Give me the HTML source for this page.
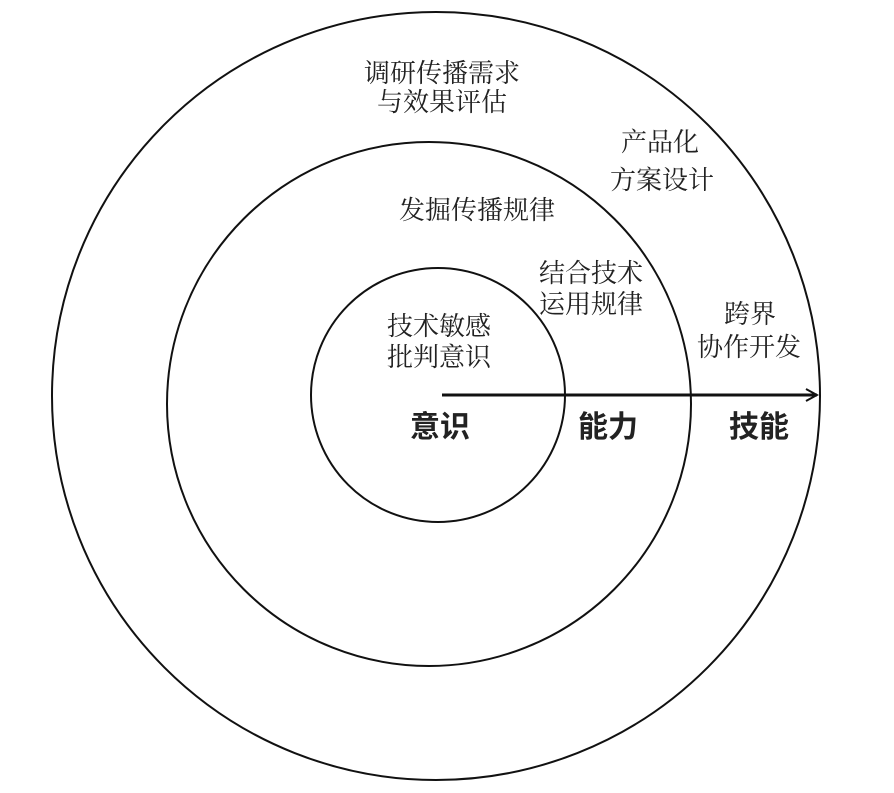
<!DOCTYPE html>
<html><head><meta charset="utf-8"><style>
html,body{margin:0;padding:0;background:#fff;}
svg text{fill:#222;}
.s{font-family:"Liberation Serif","Noto Serif CJK SC",serif;}
.b{font-family:"Liberation Sans","Noto Sans CJK SC",sans-serif;}
</style></head><body>
<svg width="894" height="788" viewBox="0 0 894 788" xmlns="http://www.w3.org/2000/svg">
<defs><marker id="a" markerWidth="14" markerHeight="14" refX="12" refY="7" orient="auto" markerUnits="userSpaceOnUse"><path d="M1,1 L12,7 L1,13" fill="none" stroke="#111" stroke-width="2"/></marker></defs>
<g fill="none" stroke="#111" stroke-width="2">
<circle cx="436" cy="396" r="384"/>
<circle cx="429" cy="404" r="262"/>
<circle cx="438" cy="395" r="127"/>
<line x1="442" y1="395" x2="817" y2="395" stroke-width="3" marker-end="url(#a)"/>
</g>
<g class="s" font-size="26" text-anchor="middle">
<text x="442" y="82">调研传播需求</text>
<text x="442" y="111">与效果评估</text>
<text x="660" y="151">产品化</text>
<text x="662" y="189">方案设计</text>
<text x="477" y="219">发掘传播规律</text>
<text x="591" y="282">结合技术</text>
<text x="591" y="313">运用规律</text>
<text x="439" y="335">技术敏感</text>
<text x="439" y="366">批判意识</text>
<text x="750" y="323">跨界</text>
<text x="749" y="356">协作开发</text>
</g>
<g class="b" font-size="30" font-weight="bold" text-anchor="middle">
<text x="440" y="437">意识</text>
<text x="608" y="437">能力</text>
<text x="759" y="437">技能</text>
</g>
</svg>
</body></html>
